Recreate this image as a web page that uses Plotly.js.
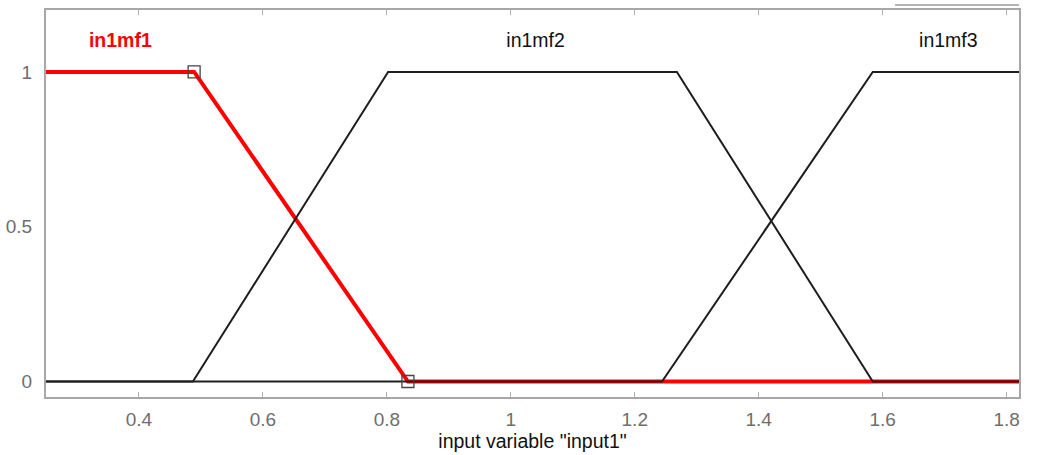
<!DOCTYPE html>
<html>
<head>
<meta charset="utf-8">
<script src="https://cdn.plot.ly/plotly-3.0.1.min.js"></script>
<style>
  html, body { margin: 0; padding: 0; background: #fff; }
  #chart { width: 1039px; height: 455px; }
</style>
</head>
<body>
<div id="chart"></div>
<script>
// Membership functions of input variable "input1" (trapezoids)
const mfNames = ["in1mf1", "in1mf2", "in1mf3"];
const mf1X = [0.25, 0.489, 0.834, 1.82];
const mf1Y = [1, 1, 0, 0];
const mf2X = [0.25, 0.487, 0.802, 1.268, 1.584, 1.82];
const mf2Y = [0, 0, 1, 1, 0, 0];
const mf3X = [0.25, 1.244, 1.584, 1.82];
const mf3Y = [0, 0, 1, 1];
// label anchor positions for each membership function
const labelX = [0.37, 1.04, 1.706];
const labelY = [1.095, 1.095, 1.095];
// selected function's editable corner points
const handleX = [0.489, 0.834];
const handleY = [1, 0];

const xTicks = [0.4, 0.6, 0.8, 1, 1.2, 1.4, 1.6, 1.8];
const yTicks = [0, 0.5, 1];
const yTickText = ["0", "0.5", "1"];

const FONT = "Liberation Sans, Arial, sans-serif";

const traces = [
  { x: mf1X, y: mf1Y, mode: "lines", line: { color: "#ff0000", width: 4 }, hoverinfo: "skip" },
  { x: mf2X, y: mf2Y, mode: "lines", line: { color: "#1e1e1e", width: 2 }, hoverinfo: "skip" },
  { x: mf3X, y: mf3Y, mode: "lines", line: { color: "#1e1e1e", width: 2 }, hoverinfo: "skip" },
  { x: handleX, y: handleY, mode: "markers",
    marker: { symbol: "square-open", size: 12, color: "#444", line: { width: 1.3, color: "#444" } },
    hoverinfo: "skip" },
  { x: labelX, y: labelY, mode: "text", text: mfNames,
    textfont: { family: FONT, size: 19.5, color: ["#ff0000", "#111", "#111"],
                weight: [700, 400, 400] },
    textposition: "middle center", hoverinfo: "skip" }
];

const layout = {
  width: 1039, height: 455,
  margin: { l: 46, r: 20, t: 10, b: 58 },
  paper_bgcolor: "#fff", plot_bgcolor: "#fff",
  showlegend: false,
  font: { family: FONT },
  xaxis: {
    range: [0.25, 1.82],
    tickvals: xTicks,
    ticktext: xTicks.map(String),
    ticks: "inside", ticklen: 5, tickwidth: 1, tickcolor: "#b0b0b0",
    ticklabelstandoff: 4,
    tickfont: { family: FONT, size: 19, color: "#6e6e6e" },
    showgrid: false, zeroline: false,
    showline: true, linecolor: "#a8a8a8", linewidth: 2, mirror: "ticks",
    title: { text: 'input variable "input1"', font: { family: FONT, size: 19.5, color: "#111" }, standoff: 0 }
  },
  yaxis: {
    range: [-0.05, 1.2],
    tickvals: yTicks, ticktext: yTickText,
    ticks: "", ticklabelstandoff: 8,
    tickfont: { family: FONT, size: 19, color: "#6e6e6e" },
    showgrid: false, zeroline: false,
    showline: true, linecolor: "#a8a8a8", linewidth: 2, mirror: true
  },
  shapes: [
    { type: "line", xref: "x", yref: "paper", x0: 1.62, x1: 1.82, y0: 1.013, y1: 1.013,
      line: { color: "#9a9a9a", width: 1.5 } }
  ]
};

Plotly.newPlot("chart", traces, layout, { staticPlot: true, displayModeBar: false });
</script>
</body>
</html>
